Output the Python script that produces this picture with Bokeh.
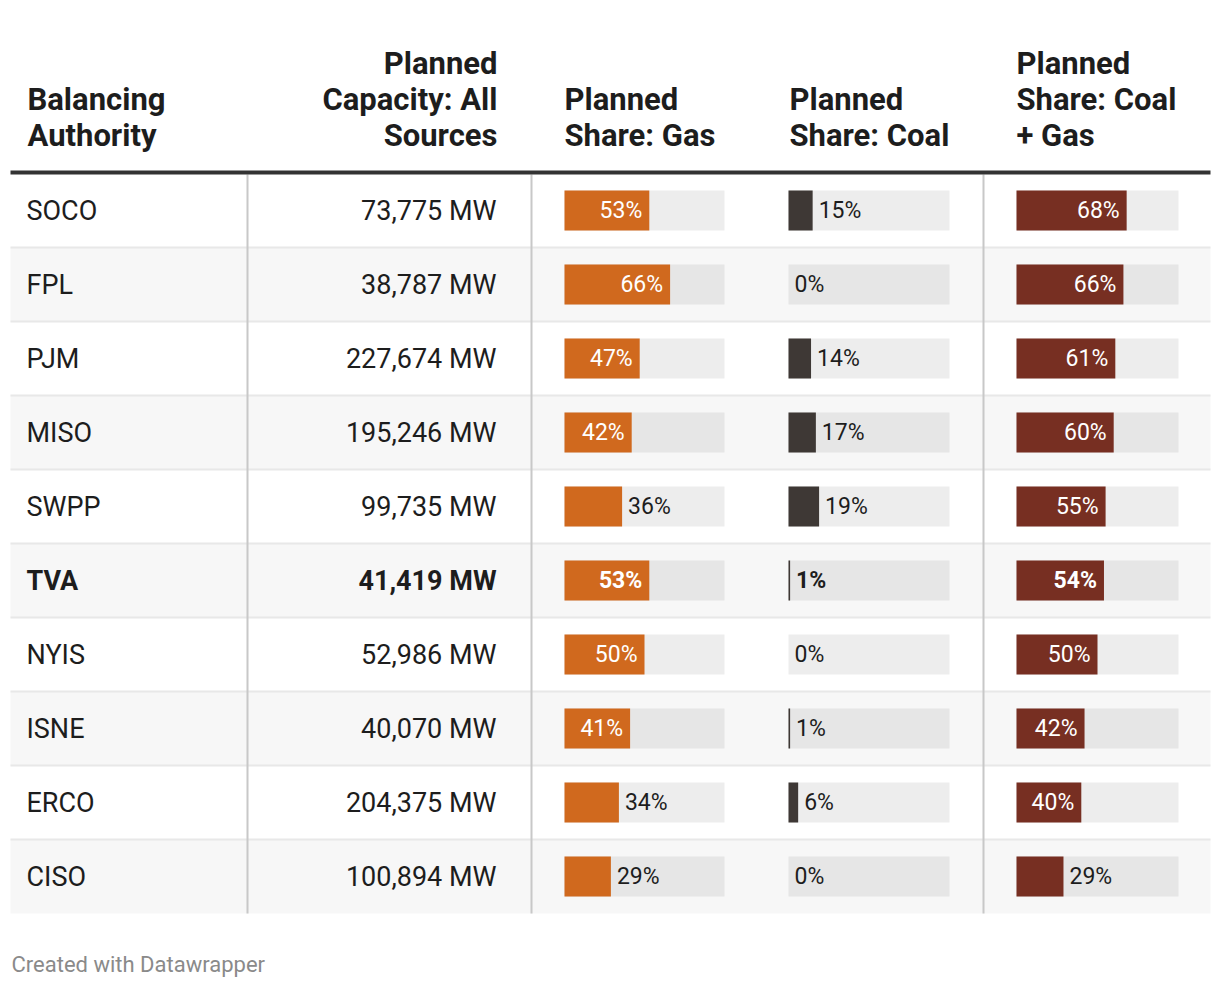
from bokeh.plotting import figure
from bokeh.models import Range1d
from bokeh.core.properties import value
from bokeh.embed import file_html
from bokeh.resources import INLINE

# ---- data ----
authorities = ["SOCO", "FPL", "PJM", "MISO", "SWPP", "TVA", "NYIS", "ISNE", "ERCO", "CISO"]
capacity_mw = [73775, 38787, 227674, 195246, 99735, 41419, 52986, 40070, 204375, 100894]
share_gas = [53, 66, 47, 42, 36, 53, 50, 41, 34, 29]
share_coal = [15, 0, 14, 17, 19, 1, 0, 1, 6, 0]
share_coal_gas = [68, 66, 61, 60, 55, 54, 50, 42, 40, 29]
highlight = ["TVA"]

headers = [
    ["Balancing", "Authority"],
    ["Planned", "Capacity: All", "Sources"],
    ["Planned", "Share: Gas"],
    ["Planned", "Share: Coal"],
    ["Planned", "Share: Coal", "+ Gas"],
]
footer = "Created with Datawrapper"

# ---- styles / layout ----
FONT = value("Roboto")
TXT = "#1d1d1d"
W, H = 1212, 984
X0, Y0 = 0, 0
TABLE_L, TABLE_R = 10, 1210
ROW_TOP0, ROW_H = 173, 74
n = len(authorities)

p = figure(width=W, height=H, x_range=Range1d(X0, X0 + W), y_range=Range1d(Y0 + H, Y0),
           output_backend="svg", toolbar_location=None, min_border=0)
p.axis.visible = False
p.grid.visible = False
p.outline_line_color = None
p.background_fill_color = "white"
p.border_fill_color = "white"

tops = [ROW_TOP0 + ROW_H * i for i in range(n)]
bots = [t + ROW_H for t in tops]
mids = [t + 37 for t in tops]
row_bg = ["#ffffff" if i % 2 == 0 else "#f7f7f7" for i in range(n)]
track_bg = ["#ededed" if i % 2 == 0 else "#e6e6e6" for i in range(n)]
weights = ["bold" if a in highlight else "normal" for a in authorities]

# row backgrounds
p.quad(left=TABLE_L, right=TABLE_R, top=tops, bottom=bots, fill_color=row_bg, line_color=None)
# row separators
p.segment(x0=TABLE_L, x1=TABLE_R, y0=bots[:-1], y1=bots[:-1], line_color="#e8e8e8", line_width=2)
# vertical dividers
for xv in [247, 531, 983]:
    p.segment(x0=xv, x1=xv, y0=174, y1=bots[-1], line_color="#c8c8c8", line_width=2)
# header rule
p.segment(x0=TABLE_L, x1=TABLE_R, y0=172, y1=172, line_color="#333333", line_width=4)

# header texts
HEAD_BASE = 135
HEAD_LH = 36
head_pos = [(27, "left"), (497, "right"), (564, "left"), (789, "left"), (1016, "left")]
for lines, (hx, al) in zip(headers, head_pos):
    k = len(lines)
    ys = [HEAD_BASE - HEAD_LH * (k - 1 - j) for j in range(k)]
    p.text(x=[hx] * k, y=ys, text=lines, text_font=FONT, text_font_size="31px",
           text_font_style="bold", text_align=al, text_baseline="alphabetic", text_color=TXT)

# first two columns
p.text(x=[26] * n, y=mids, text=authorities, text_font=FONT, text_font_size="27px",
       text_font_style=weights, text_align="left", text_baseline="middle", text_color=TXT)
cap_labels = [f"{c:,} MW" for c in capacity_mw]
p.text(x=[496] * n, y=mids, text=cap_labels, text_font=FONT, text_font_size="27px",
       text_font_style=weights, text_align="right", text_baseline="middle", text_color=TXT)

# bar columns
bar_cols = [
    (share_gas, 564, 160, "#d0691e"),
    (share_coal, 788, 161, "#3e3835"),
    (share_coal_gas, 1016, 162, "#772f22"),
]
for vals, bx, bw, col in bar_cols:
    ends = [bx + v / 100 * bw for v in vals]
    p.quad(left=bx, right=bx + bw, top=[m - 20 for m in mids], bottom=[m + 20 for m in mids],
           fill_color=track_bg, line_color=None)
    p.quad(left=bx, right=ends, top=[m - 20 for m in mids], bottom=[m + 20 for m in mids],
           fill_color=col, line_color=None)
    inside = [v >= 38 for v in vals]
    lx = [e - 7 if ins else e + 6 for e, ins in zip(ends, inside)]
    la = ["right" if ins else "left" for ins in inside]
    lc = ["#ffffff" if ins else TXT for ins in inside]
    p.text(x=lx, y=mids, text=[f"{v}%" for v in vals], text_font=FONT, text_font_size="23px",
           text_font_style=weights, text_align=la, text_baseline="middle", text_color=lc)

# footer
p.text(x=[11], y=[964], text=[footer], text_font=FONT, text_font_size="22px",
       text_align="left", text_baseline="middle", text_color="#8a8a8a")

open("out.html", "w").write(file_html(p, INLINE))
